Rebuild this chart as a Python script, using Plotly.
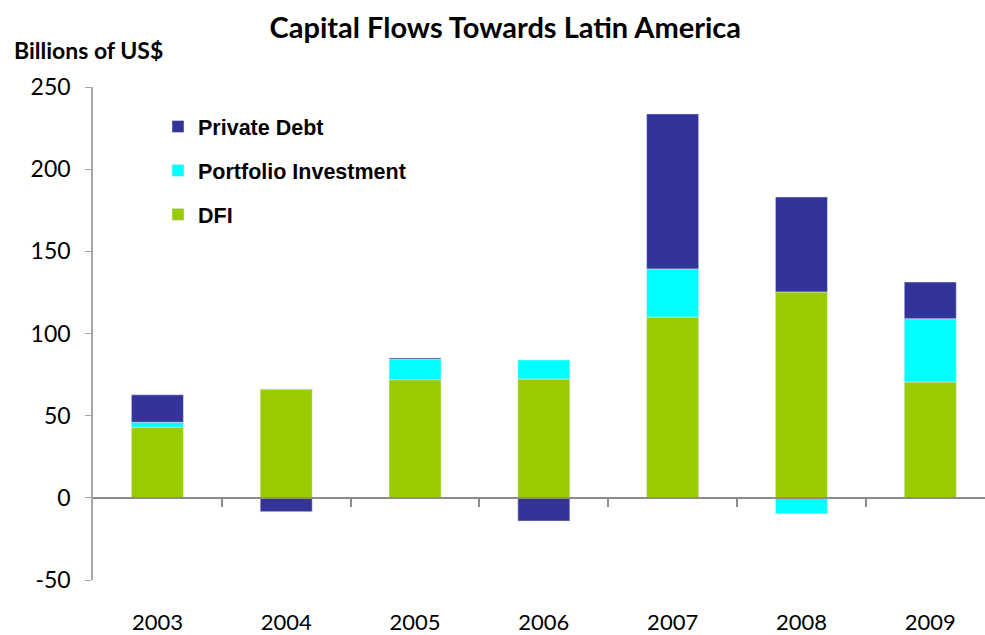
import plotly.graph_objects as go

years = ["2003", "2004", "2005", "2006", "2007", "2008", "2009"]
dfi = [43, 66.2, 71.9, 72.3, 110, 125.3, 70.5]
portfolio = [3, 0, 12.4, 11.6, 29.3, -9.7, 38.5]
private_debt = [16.7, -8.4, 0.8, -14.1, 94.3, 57.8, 22.3]

y_ticks = [-50, 0, 50, 100, 150, 200, 250]
y_tick_text = ["-50", "0", "50", "100", "150", "200", "250"]

fig = go.Figure()
fig.add_trace(go.Bar(x=years, y=dfi, name="DFI", marker_color="#99CC00",
                     legendgroup="a", legendrank=3))
fig.add_trace(go.Bar(x=years, y=portfolio, name="Portfolio Investment",
                     marker_color="#00FFFF", legendgroup="b", legendrank=2))
fig.add_trace(go.Bar(x=years, y=private_debt, name="Private Debt",
                     marker_color="#333399", legendgroup="c", legendrank=1))
# helper trace so the zero-crossing axis is drawn
fig.add_trace(go.Scatter(x=[0], y=[0], xaxis="x2", mode="markers",
                         marker=dict(opacity=0), showlegend=False,
                         hoverinfo="skip"))

n = len(years)
xr = [-0.5, 6.425]
ymin, ymax = -50, 250

fig.update_layout(
    width=985, height=635,
    margin=dict(l=93, r=0, t=87, b=55, autoexpand=False),
    barmode="relative",
    bargap=0.596,
    plot_bgcolor="white", paper_bgcolor="white",
    title=dict(text="Capital Flows Towards Latin America",
               font=dict(family="Lato", size=29, color="black", weight="bold"),
               x=0.513, xref="container", xanchor="center",
               y=1 - 28 / 635, yref="container", yanchor="middle"),
    xaxis=dict(type="category", range=xr, showline=False, ticks="",
               showgrid=False, zeroline=False, automargin=False,
               tickfont=dict(family="Lato", size=22, color="black"),
               ticklabelstandoff=27),
    xaxis2=dict(range=xr, overlaying="x", anchor="free",
                position=(0 - ymin) / (ymax - ymin), automargin=False,
                showline=True, linecolor="#8c8c8c", linewidth=1.5,
                ticks="outside", ticklen=8, tickcolor="#8c8c8c", tickwidth=1.5,
                tickvals=[i + 0.5 for i in range(n - 1)],
                showticklabels=False, showgrid=False, zeroline=False),
    yaxis=dict(range=[ymin, ymax], tickvals=y_ticks, ticktext=y_tick_text,
               showgrid=False, automargin=False,
               zeroline=False, showline=True, linecolor="#a6a6a6",
               linewidth=1.5, ticks="outside", ticklen=6,
               tickcolor="#a6a6a6",
               tickfont=dict(family="Lato", size=23, color="black"),
               ticklabelstandoff=10),
    legend=dict(x=(158 - 93) / 892, y=(580 - 106) / 493,
                xanchor="left", yanchor="top",
                traceorder="grouped", tracegroupgap=13,
                font=dict(family="Liberation Sans", size=21.5, color="black",
                          weight="bold"),
                bgcolor="rgba(0,0,0,0)", itemwidth=30),
    annotations=[dict(text="Billions of US$", xref="paper", yref="paper",
                      x=(12 - 93) / 892, y=(580 - 50) / 493,
                      xanchor="left", yanchor="middle", showarrow=False,
                      font=dict(family="Lato", size=23, color="black",
                                weight="bold"))],
    showlegend=True,
)

fig.write_html("out.html")
